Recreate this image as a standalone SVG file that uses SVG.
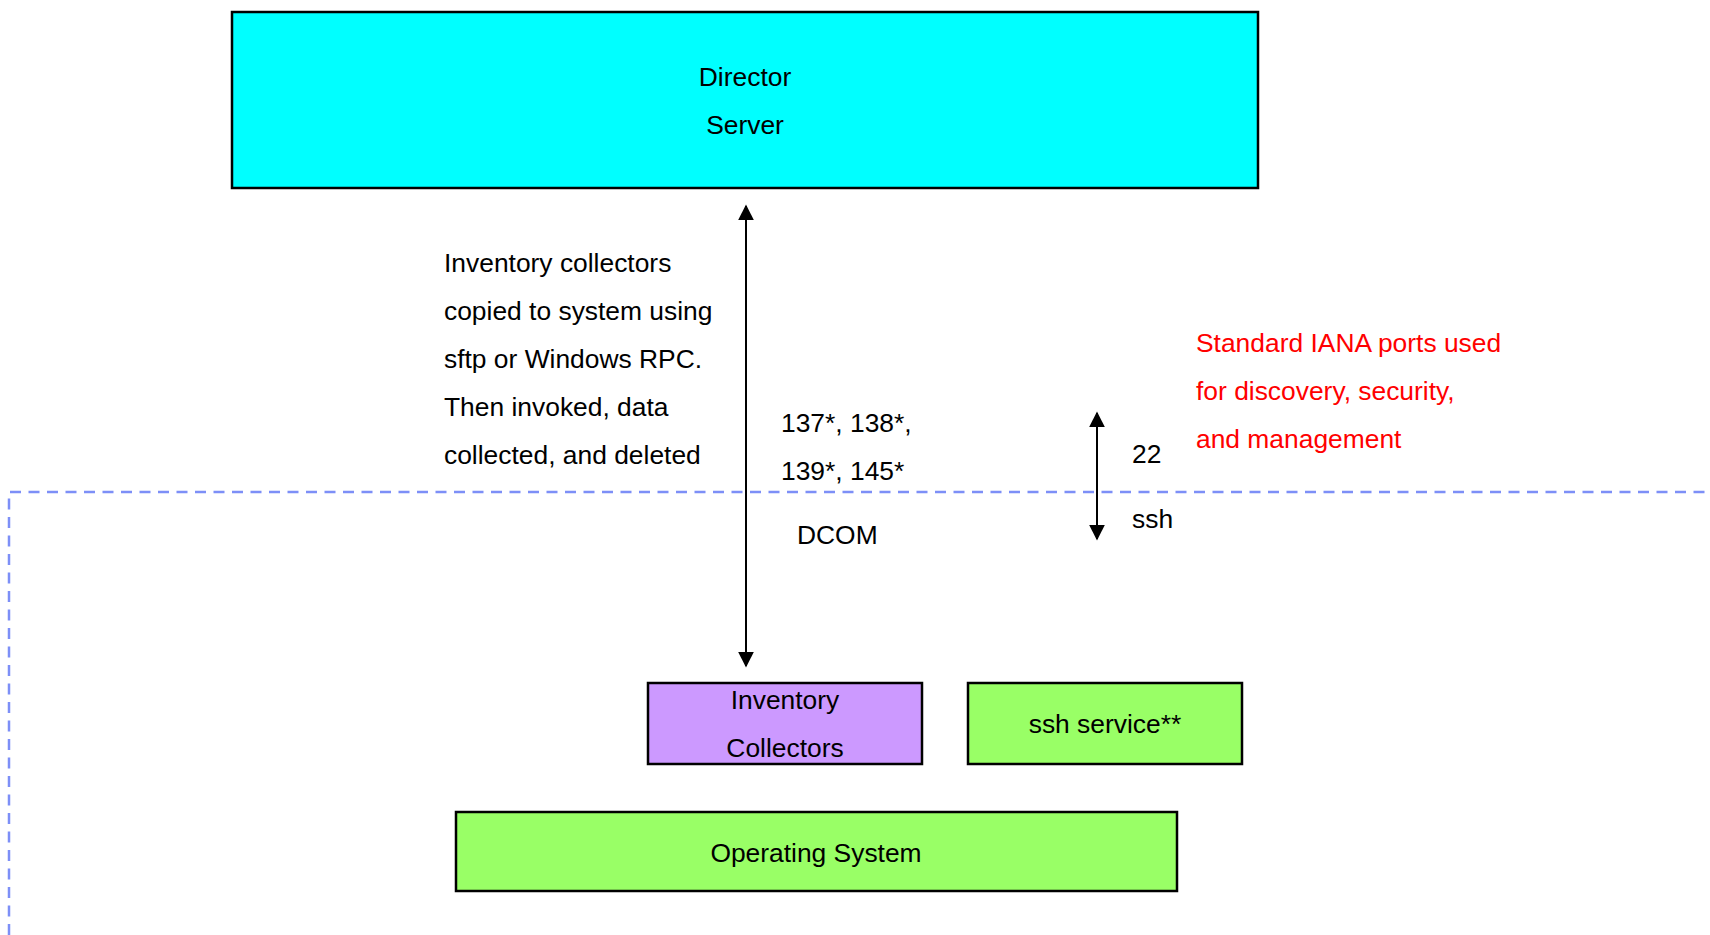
<svg xmlns="http://www.w3.org/2000/svg" width="1710" height="935" viewBox="0 0 1710 935">
<style>
text{font-family:"Liberation Sans",Arial,sans-serif;font-size:26.4px;fill:#000}
.c{text-anchor:middle}
.red{fill:#ff0000}
.box{stroke:#000;stroke-width:2.5}
.conn{stroke:#000;stroke-width:2;fill:none}
</style>
<defs>
<marker id="ah" viewBox="0 0 10 10" refX="9" refY="5" markerWidth="16" markerHeight="16" markerUnits="userSpaceOnUse" orient="auto-start-reverse">
<path d="M0,0 L10,5 L0,10 z" fill="#000"/>
</marker>
</defs>
<rect width="1710" height="935" fill="#fff"/>
<g id="boundary">
<path d="M9,935 V492 H1710" fill="none" stroke="#7d8ff7" stroke-width="2.5" stroke-dasharray="11,7.5"/>
</g>
<g id="director-server">
<rect class="box" x="232" y="12" width="1026" height="176" fill="#00ffff"/>
<text class="c" x="745" y="86">Director</text>
<text class="c" x="745" y="134">Server</text>
</g>
<g id="inventory-collectors">
<rect class="box" x="648" y="683" width="274" height="81" fill="#cc99ff"/>
<text class="c" x="785" y="709">Inventory</text>
<text class="c" x="785" y="757">Collectors</text>
</g>
<g id="ssh-service">
<rect class="box" x="968" y="683" width="274" height="81" fill="#99ff66"/>
<text class="c" x="1105" y="733">ssh service**</text>
</g>
<g id="operating-system">
<rect class="box" x="456" y="812" width="721" height="79" fill="#99ff66"/>
<text class="c" x="816" y="862">Operating System</text>
</g>
<g id="connectors">
<line class="conn" x1="746" y1="206" x2="746" y2="666" marker-start="url(#ah)" marker-end="url(#ah)"/>
<line class="conn" x1="1097" y1="413" x2="1097" y2="539" marker-start="url(#ah)" marker-end="url(#ah)"/>
</g>
<g id="labels">
<text x="444" y="272">Inventory collectors</text>
<text x="444" y="320">copied to system using</text>
<text x="444" y="368">sftp or Windows RPC.</text>
<text x="444" y="416">Then invoked, data</text>
<text x="444" y="464">collected, and deleted</text>
<text x="781" y="432">137*, 138*,</text>
<text x="781" y="480">139*, 145*</text>
<text x="797" y="544">DCOM</text>
<text x="1132" y="463">22</text>
<text x="1132" y="528">ssh</text>
<text class="red" x="1196" y="352">Standard IANA ports used</text>
<text class="red" x="1196" y="400">for discovery, security,</text>
<text class="red" x="1196" y="448">and management</text>
</g>
</svg>
